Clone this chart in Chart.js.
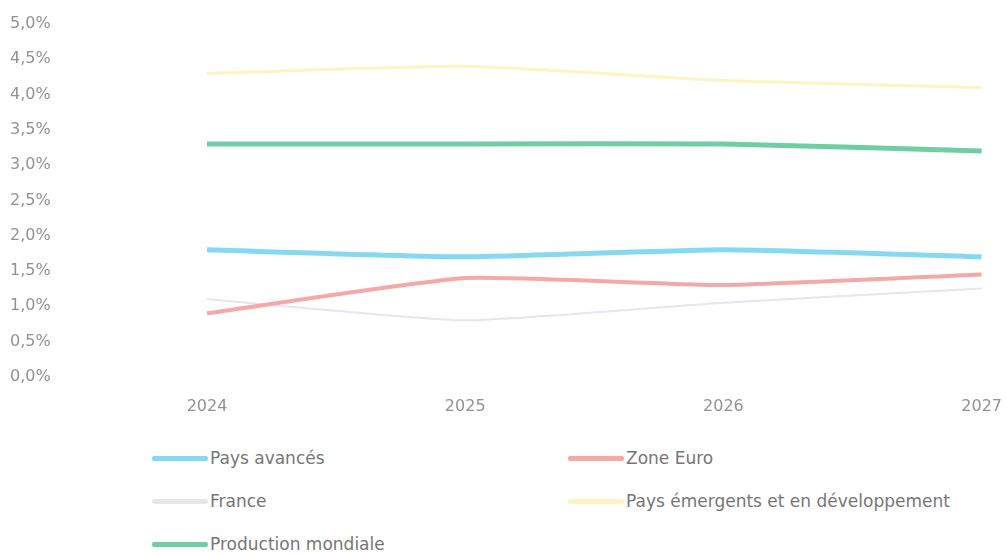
<!DOCTYPE html>
<html lang="fr">
<head>
<meta charset="UTF-8">
<title>Croissance du PIB</title>
<script src="https://cdn.jsdelivr.net/npm/chart.js"></script>
<style>
    body {
        margin: 0;
        background: #fff;
        overflow: hidden;
        font-family: "DejaVu Sans", Arial, sans-serif;
    }
    .chart-box {
        position: relative;
        width: 1014px;
        height: 428px;
    }
    #legend {
        display: grid;
        grid-template-columns: 416px 400px;
        row-gap: 19px;
        margin: 18px 0 0 152px;
    }
    .item {
        display: flex;
        align-items: center;
        height: 24px;
        color: #767676;
        font-size: 17px;
        white-space: nowrap;
    }
    .swatch {
        flex: none;
        width: 56px;
        height: 5px;
        border-radius: 2px;
        margin-right: 2px;
    }
</style>
</head>
<body>
<div class="chart-box"><canvas id="growth"></canvas></div>
<div id="legend"></div>

<script>
// années de projection
const years = ['2024', '2025', '2026', '2027'];

// croissance annuelle, en %
const paysAvances = [1.8, 1.7, 1.8, 1.7];
const zoneEuro = [0.9, 1.4, 1.3, 1.45];
const france = [1.1, 0.8, 1.05, 1.25];
const paysEmergents = [4.3, 4.4, 4.2, 4.1];
const productionMondiale = [3.3, 3.3, 3.3, 3.2];

const series = [
    { label: 'Pays avancés', data: paysAvances, color: '#86d9f2', width: 5 },
    { label: 'Zone Euro', data: zoneEuro, color: '#f6a8a6', width: 4 },
    { label: 'France', data: france, color: '#e8e5ef', width: 2 },
    { label: 'Pays émergents et en développement', data: paysEmergents, color: '#fcf5c2', width: 3 },
    { label: 'Production mondiale', data: productionMondiale, color: '#70cea5', width: 5 }
];

const tickColor = '#929292';
const tickFont = { family: '"DejaVu Sans", Arial, sans-serif', size: 16 };

const chart = new Chart(document.getElementById('growth'), {
    type: 'line',
    data: {
        labels: years,
        datasets: series.map(s => ({
            label: s.label,
            data: s.data,
            borderColor: s.color,
            backgroundColor: s.color,
            borderWidth: s.width,
            pointRadius: 0,
            tension: 0.15,
            fill: false
        }))
    },
    options: {
        responsive: true,
        maintainAspectRatio: false,
        animation: false,
        layout: { padding: { top: 24, right: 0, left: 10 } },
        plugins: {
            legend: { display: false },
            tooltip: { enabled: false }
        },
        scales: {
            x: {
                grid: { display: false },
                border: { display: false },
                ticks: { color: tickColor, font: tickFont, padding: 12, maxRotation: 0 }
            },
            y: {
                min: 0,
                max: 5,
                grid: { display: false },
                border: { display: false },
                afterFit: scale => { scale.width = 197; },
                ticks: {
                    stepSize: 0.5,
                    color: tickColor,
                    font: tickFont,
                    crossAlign: 'far',
                    callback: v => v.toFixed(1).replace('.', ',') + '%'
                }
            }
        }
    }
});

// légende sur deux colonnes
const legend = document.getElementById('legend');
chart.data.datasets.forEach(ds => {
    const item = document.createElement('div');
    item.className = 'item';
    const sw = document.createElement('span');
    sw.className = 'swatch';
    sw.style.background = ds.borderColor;
    const txt = document.createElement('span');
    txt.textContent = ds.label;
    item.appendChild(sw);
    item.appendChild(txt);
    legend.appendChild(item);
});
</script>
</body>
</html>
